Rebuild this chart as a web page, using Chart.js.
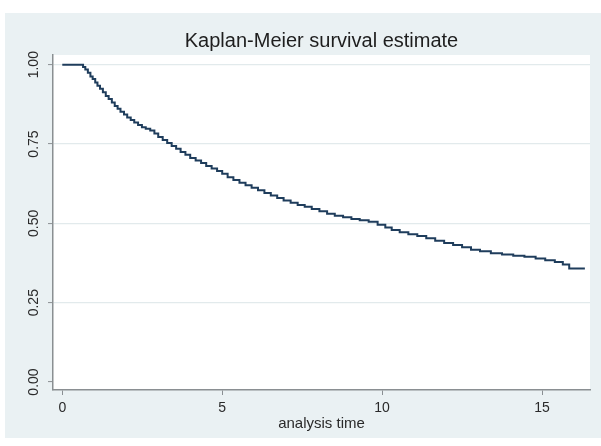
<!DOCTYPE html>
<html>
<head>
<meta charset="utf-8">
<script src="https://cdn.jsdelivr.net/npm/chart.js@4/dist/chart.umd.min.js"></script>
<style>
  body { margin: 0; background: #ffffff; }
  #panel { position: absolute; left: 5px; top: 13px; right: 0; bottom: 8px; background: #eaf1f3; }
  #wrap { position: absolute; left: 0; top: 0; width: 601px; height: 446px; }
</style>
</head>
<body>
<div id="panel"></div>
<div id="wrap"><canvas id="km" width="601" height="446"></canvas></div>
<script>
// dados (tempo, sobrevivencia)
const times = [0, 0.6, 0.65, 0.72, 0.80, 0.88, 0.95, 1.03, 1.10, 1.18, 1.27, 1.36, 1.45, 1.55, 1.64, 1.73, 1.82, 1.93,
  2.03, 2.14, 2.25, 2.37, 2.49, 2.61, 2.75, 2.88, 3.00, 3.14, 3.28, 3.42, 3.56, 3.70, 3.85, 4.00, 4.17, 4.34, 4.50,
  4.67, 4.84, 5.00, 5.17, 5.35, 5.54, 5.73, 5.92, 6.12, 6.32, 6.52, 6.72, 6.92, 7.14, 7.36, 7.58, 7.80, 8.04, 8.28,
  8.52, 8.78, 9.04, 9.30, 9.58, 9.86, 10.10, 10.30, 10.55, 10.82, 11.10, 11.38, 11.66, 11.94, 12.22, 12.50, 12.78,
  13.06, 13.40, 13.75, 14.10, 14.45, 14.80, 15.10, 15.40, 15.65, 15.85, 16.34];
const survival = [1, 1, 0.993, 0.985, 0.975, 0.963, 0.955, 0.944, 0.934, 0.924, 0.913, 0.901, 0.892, 0.881, 0.870, 0.861, 0.852, 0.843,
  0.834, 0.826, 0.818, 0.810, 0.803, 0.798, 0.793, 0.783, 0.772, 0.763, 0.753, 0.744, 0.735, 0.725, 0.716, 0.706, 0.698, 0.690, 0.681,
  0.673, 0.665, 0.656, 0.645, 0.637, 0.628, 0.620, 0.612, 0.604, 0.596, 0.588, 0.580, 0.572, 0.565, 0.558, 0.552, 0.545, 0.538, 0.530,
  0.524, 0.519, 0.514, 0.510, 0.505, 0.496, 0.487, 0.479, 0.472, 0.466, 0.460, 0.453, 0.445, 0.438, 0.432, 0.425, 0.417,
  0.412, 0.406, 0.402, 0.398, 0.395, 0.389, 0.384, 0.378, 0.370, 0.358, 0.358];

const xTicks = [0, 5, 10, 15]; // eixo x
const yTicks = [0, 0.25, 0.5, 0.75, 1]; // eixo y
const yTickLabels = ['0.00', '0.25', '0.50', '0.75', '1.00'];

const titleText = 'Kaplan-Meier survival estimate';
const xTitle = 'analysis time';

// fundo branco da area do grafico
const plotBg = {
  id: 'plotBg',
  beforeDraw(chart) {
    const { ctx, chartArea: a } = chart;
    ctx.save();
    ctx.fillStyle = '#ffffff';
    ctx.fillRect(a.left, a.top, a.right - a.left, a.bottom - a.top);
    ctx.restore();
  }
};

const axisGrey = '#8a8f92';
const font = 'Arial, "Liberation Sans", sans-serif';

new Chart(document.getElementById('km'), {
  type: 'line',
  data: {
    datasets: [{
      data: times.map((t, i) => ({ x: t, y: survival[i] })),
      stepped: true,
      borderColor: '#1f3d5c',
      borderWidth: 2,
      pointRadius: 0,
      fill: false
    }]
  },
  options: {
    responsive: false,
    animation: false,
    layout: { padding: { left: 0, right: 11, top: 0, bottom: 12 } },
    plugins: {
      legend: { display: false },
      tooltip: { enabled: false },
      title: {
        display: true,
        text: titleText,
        fullSize: false,
        color: '#1e1e1e',
        font: { family: font, size: 20, weight: 'normal' },
        padding: { top: 29.5, bottom: 1.5 }
      }
    },
    scales: {
      x: {
        type: 'linear',
        min: -0.29,
        max: 16.5,
        afterBuildTicks: s => { s.ticks = xTicks.map(v => ({ value: v })); },
        afterFit: s => { s.height = 44; },
        border: { display: true, color: axisGrey, width: 1.5 },
        grid: { drawOnChartArea: false, drawTicks: true, tickLength: 5, tickColor: axisGrey, tickWidth: 1 },
        ticks: { color: '#2a2a2a', font: { family: font, size: 14 }, padding: 4.5, maxRotation: 0 },
        title: { display: true, text: xTitle, color: '#2a2a2a', font: { family: font, size: 15 }, padding: { top: 0, bottom: 1 } }
      },
      y: {
        type: 'linear',
        min: -0.0252,
        max: 1.0306,
        afterBuildTicks: s => { s.ticks = yTicks.map(v => ({ value: v })); },
        afterFit: s => { s.width = 53; },
        border: { display: true, color: axisGrey, width: 1.5 },
        grid: {
          color: c => (c.tick && c.tick.value === 0 ? 'rgba(0,0,0,0)' : '#e2eaec'),
          lineWidth: 1.2,
          drawTicks: true,
          tickLength: 5,
          tickColor: axisGrey,
          tickWidth: 1
        },
        ticks: {
          color: '#2a2a2a',
          font: { family: font, size: 14 },
          minRotation: 90,
          maxRotation: 90,
          crossAlign: 'center',
          padding: 0,
          callback: v => yTickLabels[yTicks.indexOf(v)]
        }
      }
    }
  },
  plugins: [plotBg]
});
</script>
</body>
</html>
